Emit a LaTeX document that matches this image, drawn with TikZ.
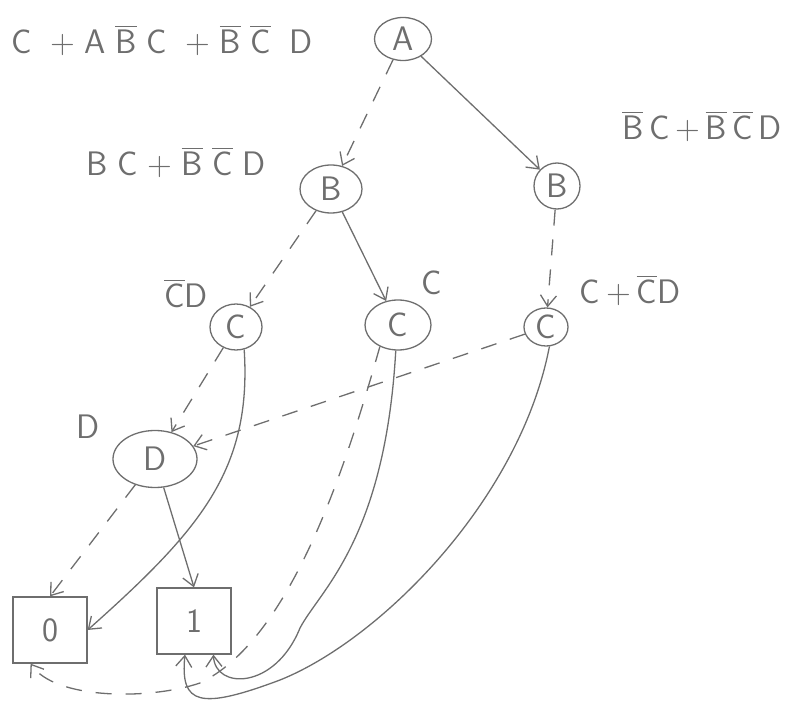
\documentclass[tikz,border=0pt]{standalone}
\usepackage{amsmath}
\usetikzlibrary{arrows.meta,shapes.geometric}

\newcommand{\cmpl}[1]{$\overline{\mbox{#1}}$}
\definecolor{pencil}{HTML}{6E6E6E}

\begin{document}
\begin{tikzpicture}[x=1pt, y=-1pt, >={Straight Barb[length=11pt,width=16pt]},
    every node/.style={font=\fontsize{34}{40}\selectfont\sffamily, text=pencil},
    bdd/.style={ellipse, draw=pencil, line width=1.3pt, inner sep=0pt},
    leaf/.style={rectangle, draw=pencil, line width=1.3pt, minimum width=74pt, minimum height=66pt},
    hi/.style={->, draw=pencil, line width=1.3pt},
    lo/.style={->, draw=pencil, line width=1.3pt, dash pattern=on 16pt off 14pt}]
        \useasboundingbox (0,0) rectangle (803,708);

        % decision nodes
        \node[bdd, minimum width=57pt, minimum height=43pt] (A) at (403,39) {A};
        \node[bdd, minimum width=62pt, minimum height=48pt] (B1) at (331,189) {B};
        \node[bdd, minimum width=46pt, minimum height=46pt] (B2) at (557,186) {B};
        \node[bdd, minimum width=52pt, minimum height=46pt] (C1) at (236,327) {C};
        \node[bdd, minimum width=66pt, minimum height=50pt] (C2) at (398,325) {C};
        \node[bdd, minimum width=44pt, minimum height=38pt] (C3) at (546,327) {C};
        \node[bdd, minimum width=84pt, minimum height=57pt] (D) at (155,459) {D};

        % terminals
        \node[leaf] (zero) at (50,630) {0};
        \node[leaf] (one) at (194,621) {1};

        % functions
        \node (fA) at (162,40) {C\;\;+\;A\;\cmpl{B}\;C\;\;+\;\cmpl{B}\;\cmpl{C}\;\;D};
        \node (fB1) at (176,162) {B\;C\;+\;\cmpl{B}\;\cmpl{C}\;D};
        \node (fB2) at (702,126) {\cmpl{B}\,C\,+\,\cmpl{B}\,\cmpl{C}\,D};
        \node (fC1) at (186,293) {\cmpl{C}D};
        \node (fC2) at (432,283) {C};
        \node (fC3) at (630,290) {C\,+\,\cmpl{C}D};
        \node (fD) at (88,427) {D};

        \draw[lo] (A) -- (B1);
        \draw[hi] (A) -- (B2);
        \draw[lo] (B1) -- (C1);
        \draw[hi] (B1) -- (C2);
        \draw[lo] (B2) -- (C3);
        \draw[lo] (C1) -- (D);
        \draw[lo] (C3) -- (D);
        \draw[lo] (D) -- (zero.north);
        \draw[hi] (D) -- (one.north);

        \draw[hi] (C1.290) .. controls (252,470) and (200,530) .. (zero.east);
        \draw[lo] (C2.230) .. controls (345,470) and (290,640) .. (200,683)
            .. controls (150,700) and (55,700) .. (zero.240);
        \draw[hi] (C2.265) .. controls (385,540) and (320,590) .. (300,628)
            .. controls (275,690) and (215,690) .. (one.300);
        \draw[hi] (C3.280) .. controls (520,500) and (380,640) .. (280,680)
            .. controls (200,710) and (180,705) .. (one.255);
\end{tikzpicture}
\end{document}
